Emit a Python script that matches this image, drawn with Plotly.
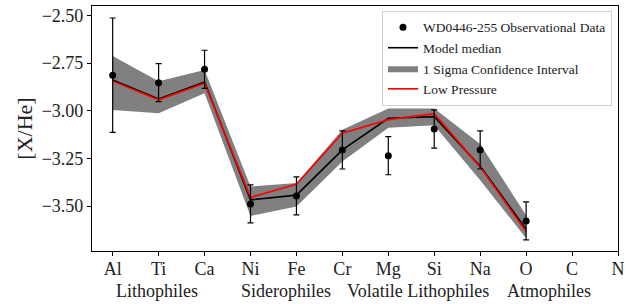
import plotly.graph_objects as go

elements = ["Al", "Ti", "Ca", "Ni", "Fe", "Cr", "Mg", "Si", "Na", "O", "C", "N"]
obs_x = ["Al", "Ti", "Ca", "Ni", "Fe", "Cr", "Mg", "Si", "Na", "O"]
obs_vals = [-2.814, -2.853, -2.783, -3.489, -3.447, -3.206, -3.236, -3.096, -3.206, -3.578]
obs_err = [0.30, 0.10, 0.10, 0.10, 0.10, 0.10, 0.10, 0.10, 0.10, 0.10]
model_median = [-2.839, -2.939, -2.850, -3.468, -3.443, -3.206, -3.040, -3.031, -3.292, -3.622]
low_pressure = [-2.845, -2.943, -2.856, -3.455, -3.386, -3.118, -3.047, -3.016, -3.296, -3.634]
band_upper = [-2.713, -2.846, -2.787, -3.398, -3.380, -3.100, -2.988, -2.988, -3.175, -3.549]
band_lower = [-2.996, -3.014, -2.909, -3.552, -3.502, -3.267, -3.090, -3.077, -3.365, -3.669]
ytick_vals = [-2.50, -2.75, -3.00, -3.25, -3.50]
ytick_text = ["−2.50", "−2.75", "−3.00", "−3.25", "−3.50"]
group_labels = ["Lithophiles", "Siderophiles", "Volatile Lithophiles", "Atmophiles"]
group_pos = [0.96, 3.78, 6.65, 9.5]

FONT = "Liberation Serif"
idx = {e: i for i, e in enumerate(elements)}
xi = [idx[e] for e in obs_x]

fig = go.Figure()
fig.add_trace(go.Scatter(
    x=xi + xi[::-1], y=band_upper + band_lower[::-1],
    fill="toself", fillcolor="#808080", line=dict(width=0, color="#808080"),
    mode="lines", name="1 Sigma Confidence Interval", legendrank=3, hoverinfo="skip"))
fig.add_trace(go.Scatter(
    x=xi, y=model_median, mode="lines", line=dict(color="black", width=1.6),
    name="Model median", legendrank=2))
fig.add_trace(go.Scatter(
    x=xi, y=low_pressure, mode="lines", line=dict(color="red", width=1.6),
    name="Low Pressure", legendrank=4))
fig.add_trace(go.Scatter(
    x=xi, y=obs_vals, mode="markers", marker=dict(color="black", size=7),
    error_y=dict(type="data", array=obs_err, color="black", thickness=1.2, width=3),
    name="WD0446-255 Observational Data", legendrank=1))

for lab, p in zip(group_labels, group_pos):
    fig.add_annotation(x=p, y=-0.162, xref="x", yref="paper", text=lab,
                       showarrow=False, yanchor="middle", xanchor="center",
                       font=dict(family=FONT, size=18, color="#222"))

fig.update_layout(
    width=638, height=304,
    margin=dict(l=92, r=20, t=6, b=53),
    paper_bgcolor="white", plot_bgcolor="white",
    font=dict(family=FONT, size=18, color="#222"),
    showlegend=True,
    legend=dict(x=0.9886, y=0.98, xanchor="right", yanchor="top",
                bgcolor="rgba(255,255,255,0.85)", bordercolor="#d0d0d0", borderwidth=1,
                font=dict(family=FONT, size=13.5, color="#222"), itemwidth=30,
                tracegroupgap=0),
)
fig.update_xaxes(range=[-0.45, 11], tickmode="array", tickvals=list(range(len(elements))),
                 ticktext=elements, showgrid=False, zeroline=False, automargin=False,
                 showline=True, linecolor="black", linewidth=1.2, mirror=True,
                 ticks="outside", ticklen=4, tickcolor="black", ticklabelstandoff=-3,
                 tickfont=dict(family=FONT, size=18))
fig.update_yaxes(range=[-3.736, -2.451], tickmode="array", tickvals=ytick_vals,
                 ticktext=ytick_text, showgrid=False, zeroline=False, automargin=False,
                 showline=True, linecolor="black", linewidth=1.2, mirror=True,
                 ticks="outside", ticklen=4, tickcolor="black",
                 tickfont=dict(family=FONT, size=18),
                 title=dict(text="[X/He]", font=dict(family=FONT, size=22), standoff=2))

fig.write_html("out.html", post_script="document.body.style.margin='0';",
               config={"displayModeBar": False})
